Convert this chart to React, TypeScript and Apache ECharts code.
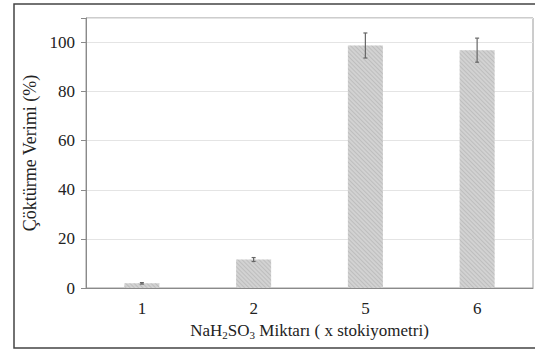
import React, { useEffect, useRef } from "react";
import * as echarts from "echarts";

const categories = ["1", "2", "5", "6"];
const values = [1.9, 11.6, 98.8, 96.9];
const errors = [0.3, 0.8, 5.1, 4.9];
const yTicks = [0, 20, 40, 60, 80, 100];

export default function App() {
  const ref = useRef<HTMLDivElement>(null);
  useEffect(() => {
    if (!ref.current) return;
    const chart = echarts.init(ref.current, undefined, { renderer: "svg" });
    const font = "Liberation Serif";
    chart.setOption({
      animation: false,
      backgroundColor: "#fff",
      grid: {
        left: 86,
        top: 18,
        right: 2,
        bottom: 61,
        show: true,
        borderColor: "#9a9a9a",
        borderWidth: 1,
      },
      xAxis: {
        type: "category",
        data: categories,
        name: "NaH{sub|2}SO{sub|3} Miktarı ( x stokiyometri)",
        nameLocation: "middle",
        nameGap: 33,
        nameTextStyle: {
          fontFamily: font,
          fontSize: 17,
          color: "#222",
          rich: {
            sub: { fontSize: 11, fontFamily: font, color: "#222", padding: [8, 0, 0, 0] },
          },
        },
        axisLine: { lineStyle: { color: "#8a8a8a", width: 1 } },
        axisTick: { alignWithLabel: true, length: 5, lineStyle: { color: "#8a8a8a" } },
        axisLabel: { fontFamily: font, fontSize: 17, color: "#222", margin: 12 },
      },
      yAxis: {
        type: "value",
        min: 0,
        max: 110,
        interval: 20,
        name: "Çöktürme Verimi (%)",
        nameLocation: "middle",
        nameGap: 44,
        nameTextStyle: { fontFamily: font, fontSize: 18, color: "#222" },
        axisLine: { show: true, lineStyle: { color: "#8a8a8a", width: 1 } },
        axisTick: { show: true, length: 5, lineStyle: { color: "#8a8a8a" } },
        axisLabel: {
          fontFamily: font,
          fontSize: 17,
          color: "#222",
          margin: 11,
          formatter: (v: number) => (yTicks.includes(v) ? String(v) : ""),
        },
        splitLine: { lineStyle: { color: "#e4e4e4", width: 1 } },
      },
      graphic: [
        {
          type: "rect",
          shape: { x: 14, y: 4, width: 540, height: 344 },
          style: { fill: "none", stroke: "#444", lineWidth: 1.5 },
          silent: true,
        },
      ],
      series: [
        {
          type: "bar",
          data: values,
          barWidth: 35,
          itemStyle: {
            color: "#d2d2d2",
            decal: {
              symbol: "rect",
              dashArrayX: [1, 0],
              dashArrayY: [1, 2],
              rotation: Math.PI / 4,
              color: "rgba(150,150,150,0.35)",
              symbolSize: 1,
            },
          },
        },
        {
          type: "custom",
          data: values.map((v, i) => [i, v - errors[i], v + errors[i]]),
          renderItem: (params: any, api: any) => {
            const i = api.value(0);
            const lo = api.coord([i, api.value(1)]);
            const hi = api.coord([i, api.value(2)]);
            const cap = 2;
            const style = { stroke: "#666", lineWidth: 1.2 };
            return {
              type: "group",
              children: [
                { type: "line", shape: { x1: lo[0], y1: lo[1], x2: hi[0], y2: hi[1] }, style },
                { type: "line", shape: { x1: lo[0] - cap, y1: lo[1], x2: lo[0] + cap, y2: lo[1] }, style },
                { type: "line", shape: { x1: hi[0] - cap, y1: hi[1], x2: hi[0] + cap, y2: hi[1] }, style },
              ],
            };
          },
          z: 5,
        },
      ],
    });
    return () => chart.dispose();
  }, []);
  return (
    <div
      ref={ref}
      style={{ position: "fixed", left: 0, top: 0, width: 535, height: 349 }}
    />
  );
}
